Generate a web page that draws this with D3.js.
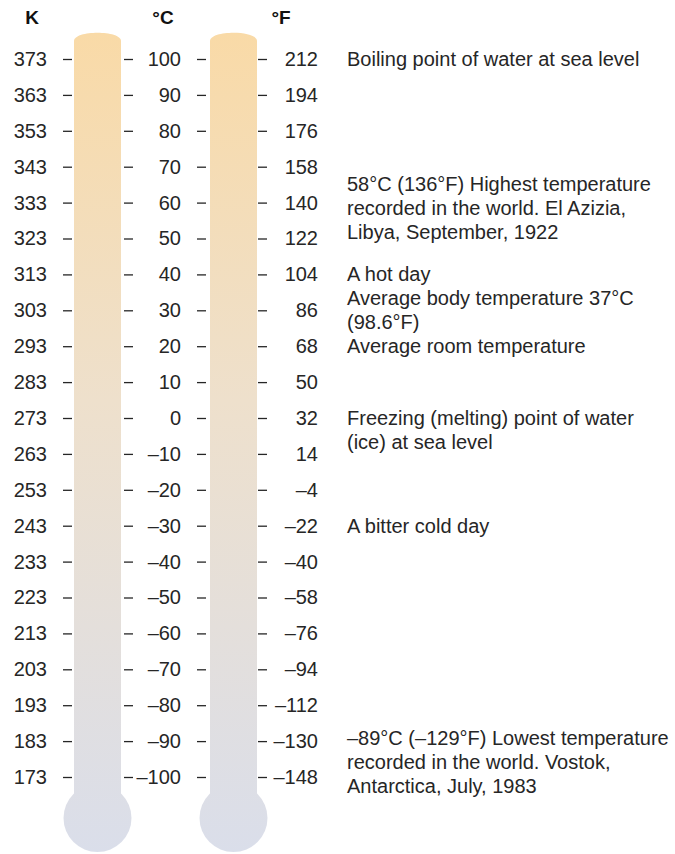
<!DOCTYPE html>
<html>
<head>
<meta charset="utf-8">
<script src="https://cdn.jsdelivr.net/npm/d3@7"></script>
<style>
  body { margin: 0; background: #fff; }
  svg { display: block; }
</style>
</head>
<body>
<div id="chart"></div>
<script>
const kelvinTicks = [373, 363, 353, 343, 333, 323, 313, 303, 293, 283, 273, 263, 253, 243, 233, 223, 213, 203, 193, 183, 173]
const celsiusTicks = [100, 90, 80, 70, 60, 50, 40, 30, 20, 10, 0, -10, -20, -30, -40, -50, -60, -70, -80, -90, -100]
const fahrenheitTicks = [212, 194, 176, 158, 140, 122, 104, 86, 68, 50, 32, 14, -4, -22, -40, -58, -76, -94, -112, -130, -148]
const headers = ['K', '°C', '°F']

// notes on the right, tied to a Celsius value
const noteTemps = [100, 58, 40, 37, 20, 0, -30, -89]
const noteLines = [
    ['Boiling point of water at sea level'],
    ['58°C (136°F) Highest temperature', 'recorded in the world. El Azizia,', 'Libya, September, 1922'],
    ['A hot day'],
    ['Average body temperature 37°C', '(98.6°F)'],
    ['Average room temperature'],
    ['Freezing (melting) point of water', '(ice) at sea level'],
    ['A bitter cold day'],
    ['–89°C (–129°F) Lowest temperature', 'recorded in the world. Vostok,', 'Antarctica, July, 1983']
]
const noteAnchor = ['top', 'middle', 'top', 'top', 'top', 'top', 'top', 'top']

const width = 675
const height = 854
const yTop = 59
const yBottom = 777
const fontFamily = '"Liberation Sans", Arial, Helvetica, sans-serif'
const textColor = '#262626'
const labelSize = 20

const cScale = d3.scaleLinear().domain([-100, 100]).range([yBottom, yTop])
const kScale = d3.scaleLinear().domain([173, 373]).range([yBottom, yTop])
const fScale = d3.scaleLinear().domain([-148, 212]).range([yBottom, yTop])

const fmt = d => d < 0 ? '–' + Math.abs(d) : String(d)

const svg = d3.select('#chart').append('svg')
    .attr('width', width)
    .attr('height', height)
    .attr('font-family', fontFamily)

// gradient for tubes
const defs = svg.append('defs')
const grad = defs.append('linearGradient')
    .attr('id', 'tubeGrad')
    .attr('gradientUnits', 'userSpaceOnUse')
    .attr('x1', 0).attr('x2', 0)
    .attr('y1', 32).attr('y2', 852)
grad.append('stop').attr('offset', '0%').attr('stop-color', '#f9daa7')
grad.append('stop').attr('offset', '45%').attr('stop-color', '#eee0cc')
grad.append('stop').attr('offset', '100%').attr('stop-color', '#dadeea')

// thermometers
const tubeW = 47
const bulbR = 34
const bulbY = 818
const tubeLefts = [74, 210]
tubeLefts.forEach(x0 => {
    const x1 = x0 + tubeW
    svg.append('path')
        .attr('d', `M${x0},41 C${x0},30 ${x1},30 ${x1},41 L${x1},${bulbY} L${x0},${bulbY} Z`)
        .attr('fill', 'url(#tubeGrad)')
    svg.append('circle')
        .attr('cx', x0 + tubeW / 2)
        .attr('cy', bulbY)
        .attr('r', bulbR)
        .attr('fill', 'url(#tubeGrad)')
})

function styleAxis (g) {
    g.select('.domain').remove()
    g.selectAll('.tick line').attr('stroke', textColor).attr('stroke-width', 1.3)
    g.selectAll('.tick text')
        .attr('fill', textColor)
        .attr('font-size', labelSize)
        .attr('font-family', fontFamily)
}

// Kelvin
svg.append('g')
    .attr('transform', 'translate(72,0)')
    .call(d3.axisLeft(kScale).tickValues(kelvinTicks).tickSize(9).tickPadding(16).tickFormat(fmt))
    .call(styleAxis)

// Celsius (ticks right of tube 1, labels + ticks left of tube 2)
svg.append('g')
    .attr('transform', 'translate(124,0)')
    .call(d3.axisRight(cScale).tickValues(celsiusTicks).tickSize(9).tickFormat(''))
    .call(styleAxis)
svg.append('g')
    .attr('transform', 'translate(206,0)')
    .call(d3.axisLeft(cScale).tickValues(celsiusTicks).tickSize(9).tickPadding(16).tickFormat(fmt))
    .call(styleAxis)

// Fahrenheit
svg.append('g')
    .attr('transform', 'translate(258,0)')
    .call(d3.axisRight(fScale).tickValues(fahrenheitTicks).tickSize(9).tickFormat(fmt))
    .call(styleAxis)
    .call(g => g.selectAll('.tick text').attr('text-anchor', 'end').attr('x', 60))

// headers
const headerX = [32, 163, 281]
svg.selectAll('text.header').data(headers).enter()
    .append('text')
    .attr('class', 'header')
    .attr('x', (d, i) => headerX[i])
    .attr('y', 24)
    .attr('text-anchor', 'middle')
    .attr('font-size', 19)
    .attr('font-weight', 'bold')
    .attr('fill', '#111')
    .text(d => d)

// notes
const lineH = 24
const notes = svg.append('g')
    .attr('font-size', labelSize)
    .attr('fill', textColor)
let lastBottom = -Infinity
noteTemps.forEach((t, i) => {
    const lines = noteLines[i]
    let y0 = cScale(t)
    if (noteAnchor[i] === 'middle') y0 -= (lines.length - 1) * lineH / 2 + 2
    if (y0 < lastBottom + lineH) y0 = lastBottom + lineH
    lines.forEach((s, j) => {
        notes.append('text')
            .attr('x', 347)
            .attr('y', y0 + j * lineH)
            .attr('dy', '0.35em')
            .text(s)
    })
    lastBottom = y0 + (lines.length - 1) * lineH
})
</script>
</body>
</html>
